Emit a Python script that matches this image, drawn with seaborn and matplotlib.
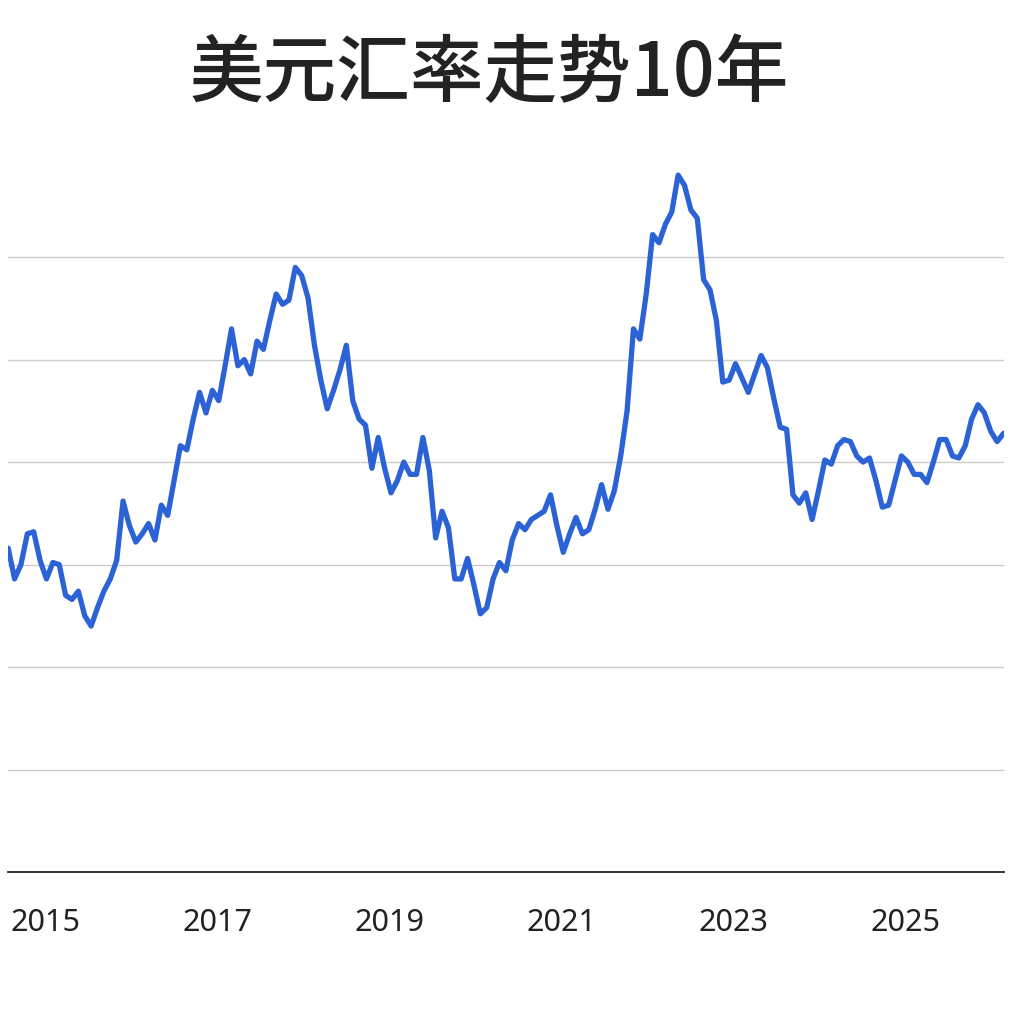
import matplotlib
matplotlib.use("Agg")
import matplotlib.pyplot as plt
from matplotlib import font_manager
import seaborn as sns
import pandas as pd
import numpy as np

values = [95.8,94.3,95.0,96.5,96.6,95.2,94.3,95.1,95.0,93.5,93.3,93.7,92.5,92.0,92.9,93.7,94.3,95.2,98.1,96.9,
96.1,96.5,97.0,96.2,97.9,97.4,99.1,100.8,100.6,102.1,103.4,102.4,103.5,103.0,104.7,106.5,104.7,105.0,104.3,105.9,
105.5,106.9,108.2,107.7,107.9,109.5,109.1,108.0,105.7,104.0,102.6,103.5,104.5,105.7,103.0,102.1,101.8,99.7,101.2,99.7,
98.5,99.1,100.0,99.4,99.4,101.2,99.6,96.3,97.6,96.8,94.3,94.3,95.3,94.0,92.6,92.9,94.3,95.1,94.7,96.2,
97.0,96.7,97.2,97.4,97.6,98.4,96.9,95.6,96.5,97.3,96.5,96.7,97.7,98.9,97.7,98.6,100.3,102.5,106.5,106.0,
108.2,111.1,110.7,111.6,112.2,114.0,113.5,112.3,111.9,108.9,108.4,106.9,103.9,104.0,104.8,104.1,103.4,104.3,105.2,104.6,
103.1,101.7,101.6,98.4,98.0,98.5,97.2,98.6,100.1,99.9,100.8,101.1,101.0,100.3,100.0,100.2,99.1,97.8,97.9,99.1,
100.3,100.0,99.4,99.4,99.0,100.0,101.1,101.1,100.3,100.2,100.8,102.1,102.8,102.4,101.5,101.0,101.4]
dates = pd.date_range("2014-07-25", "2026-02-20", periods=len(values))
tick_years = [2015, 2017, 2019, 2021, 2023, 2025]
grid_levels = [85, 90, 95, 100, 105, 110]
title = "美元汇率走势10年"

names = sorted({f.name for f in font_manager.fontManager.ttflist})
cjk = next((n for n in names if "Sans CJK SC" in n), None) or \
      next((n for n in names if "Sans CJK" in n), "Noto Sans CJK SC")
plt.rcParams["font.family"] = ["Noto Sans", "DejaVu Sans"]

df = pd.DataFrame({"date": dates, "value": values})

fig = plt.figure(figsize=(10.24, 10.24), dpi=100)
ax = fig.add_axes([0.008, 0.1484, 0.972, 0.7006])
sns.lineplot(data=df, x="date", y="value", ax=ax, color="#2b62d6", linewidth=3.8,
             solid_joinstyle="round", solid_capstyle="round")
ax.set_ylim(80, 115)
ax.set_xlim(dates[0], dates[-1])
for g in grid_levels:
    ax.axhline(g, color="#cccccc", linewidth=1, zorder=0)
ax.set_xticks([pd.Timestamp(f"{y}-01-01") for y in tick_years])
ax.set_xticklabels([str(y) for y in tick_years], fontsize=22, color="#222222")
ax.set_yticks([])
ax.tick_params(axis="x", length=0, pad=26)
for s in ["left", "right", "top"]:
    ax.spines[s].set_visible(False)
ax.spines["bottom"].set_color("#222222")
ax.spines["bottom"].set_linewidth(1.3)
ax.set_xlabel("")
ax.set_ylabel("")
fig.text(0.478, 0.927, title, ha="center", va="center", fontsize=53,
         fontweight="medium", color="#222222", fontfamily=[cjk, "DejaVu Sans"])
fig.savefig("out.png", dpi=100, facecolor="white")
